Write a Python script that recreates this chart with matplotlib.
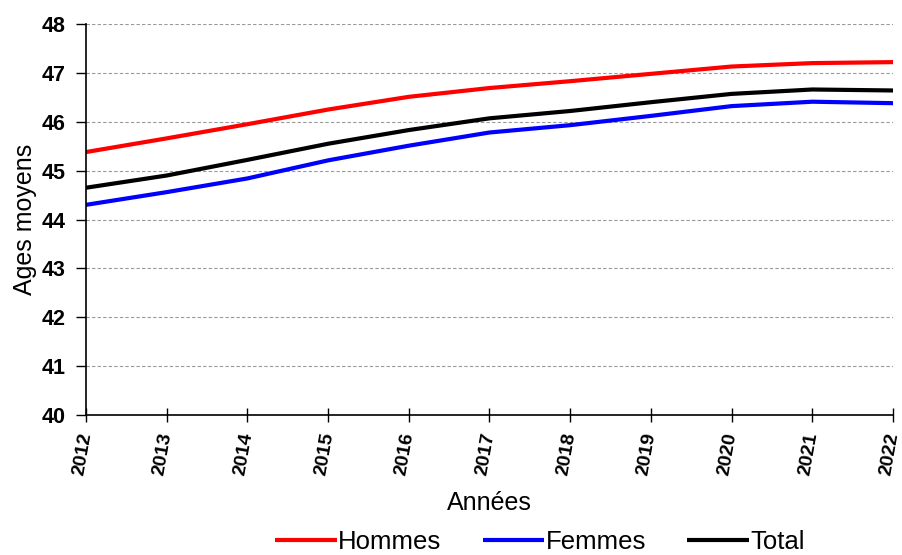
import numpy as np
import matplotlib.pyplot as plt

plt.rcParams['font.family'] = ['Liberation Sans', 'DejaVu Sans']

annees = [2012, 2013, 2014, 2015, 2016, 2017, 2018, 2019, 2020, 2021, 2022]
hommes = [45.38, 45.66, 45.95, 46.25, 46.51, 46.69, 46.83, 46.98, 47.13, 47.20, 47.22]
femmes = [44.30, 44.56, 44.84, 45.21, 45.51, 45.78, 45.93, 46.12, 46.32, 46.41, 46.38]
total = [44.65, 44.90, 45.22, 45.55, 45.83, 46.07, 46.22, 46.40, 46.57, 46.66, 46.64]

fig = plt.figure(figsize=(9.02, 5.55), dpi=100)
ax = fig.add_axes([86 / 902, 1 - 415 / 555, (893 - 86) / 902, (415 - 24) / 555])

ax.plot(annees, hommes, color='#ff0000', lw=3, label='Hommes', solid_capstyle='butt')
ax.plot(annees, femmes, color='#0000ff', lw=3, label='Femmes', solid_capstyle='butt')
ax.plot(annees, total, color='black', lw=3, label='Total', solid_capstyle='butt')

ax.set_xlim(2012, 2022)
ax.set_ylim(40, 48)
ax.set_xticks(annees)
ax.set_yticks(range(40, 49))
ax.yaxis.grid(True, color='#999999', linestyle=(0, (3, 2)), lw=0.8)
ax.set_axisbelow(True)

for s in ['top', 'right']:
    ax.spines[s].set_visible(False)
ax.spines['left'].set_linewidth(1.2)
ax.spines['bottom'].set_linewidth(1.2)

ax.tick_params(axis='y', direction='out', length=7, width=1, labelsize=15.5, pad=8)
ax.tick_params(axis='x', direction='inout', length=10, width=1, labelsize=14, pad=8)
for lab in ax.get_yticklabels():
    lab.set_fontweight('bold')
ax.set_xticklabels([str(a) for a in annees], rotation=80, fontweight='bold',
                   ha='right', va='center', rotation_mode='anchor')

ax.set_ylabel('Ages moyens', fontsize=18, labelpad=3)
ax.set_xlabel('Années', fontsize=18, labelpad=10)

fig.legend(loc='center', bbox_to_anchor=(540 / 902, 1 - 542 / 555), ncol=3, frameon=False,
           fontsize=18.5, handlelength=2.4, handletextpad=0.05, columnspacing=1.6)

fig.savefig('out.png', dpi=100)
